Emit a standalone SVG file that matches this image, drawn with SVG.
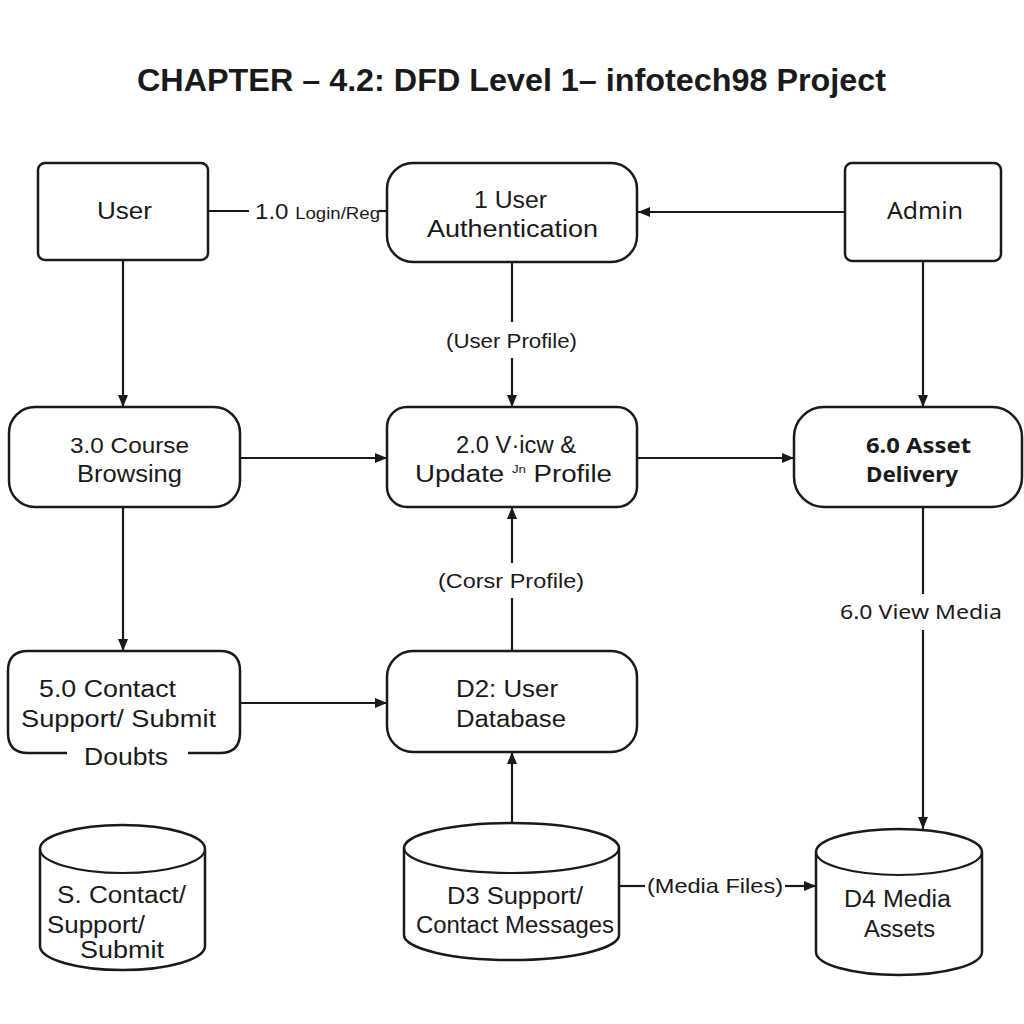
<svg xmlns="http://www.w3.org/2000/svg" width="1024" height="1024" viewBox="0 0 1024 1024">
<defs>
<marker id="arr" viewBox="0 0 12 10" refX="12" refY="5" markerWidth="12" markerHeight="10" markerUnits="userSpaceOnUse" orient="auto">
<path d="M0,0 L12,5 L0,10 z" fill="#1a1a1a"/>
</marker>
<style>
.box{fill:#fff;stroke:#1a1a1a;stroke-width:2.5}
.ln{fill:none;stroke:#1a1a1a;stroke-width:2.2}
.t{font-family:"Liberation Sans",Arial,sans-serif;fill:#1a1a1a}
.w{font-family:"Noto Sans","DejaVu Sans",sans-serif;fill:#1a1a1a}
</style>
</defs>
<rect width="1024" height="1024" fill="#fff"/>
<text class="t" x="137" y="91" font-size="31" font-weight="bold" textLength="749" lengthAdjust="spacingAndGlyphs">CHAPTER – 4.2: DFD Level 1– infotech98 Project</text>

<g id="connectors">
<path class="ln" d="M208,211 H249"/>
<path class="ln" d="M379,211 H387"/>
<path class="ln" d="M845,212 H638" marker-end="url(#arr)"/>
<path class="ln" d="M123,260 V407" marker-end="url(#arr)"/>
<path class="ln" d="M512,262 V322 M512,358 V407" marker-end="url(#arr)"/>
<path class="ln" d="M923,261 V407" marker-end="url(#arr)"/>
<path class="ln" d="M240,458 H387" marker-end="url(#arr)"/>
<path class="ln" d="M637,458 H794" marker-end="url(#arr)"/>
<path class="ln" d="M123,507 V651" marker-end="url(#arr)"/>
<path class="ln" d="M512,651 V598 M512,563 V507" marker-end="url(#arr)"/>
<path class="ln" d="M923,507 V594 M923,630 V829" marker-end="url(#arr)"/>
<path class="ln" d="M240,703 H387" marker-end="url(#arr)"/>
<path class="ln" d="M512,823 V752" marker-end="url(#arr)"/>
<path class="ln" d="M619,886 H645"/>
<path class="ln" d="M785,886 H816" marker-end="url(#arr)"/>
<text class="t" x="255" y="219" font-size="22" textLength="125" lengthAdjust="spacingAndGlyphs">1.0 <tspan font-size="17">Login/Reg</tspan></text>
<text class="t" x="446" y="348" font-size="21" textLength="131" lengthAdjust="spacingAndGlyphs">(User Profile)</text>
<text class="t" x="438" y="588" font-size="21" textLength="146" lengthAdjust="spacingAndGlyphs">(Corsr Profile)</text>
<text class="w" x="840" y="619" font-size="20" textLength="162" lengthAdjust="spacingAndGlyphs">6.0 View Media</text>
<text class="t" x="647" y="893" font-size="21" textLength="136" lengthAdjust="spacingAndGlyphs">(Media Files)</text>
</g>

<g id="user">
<rect class="box" x="38" y="163" width="170" height="97" rx="7"/>
<text class="t" x="97" y="219" font-size="24" textLength="55" lengthAdjust="spacingAndGlyphs">User</text>
</g>
<g id="auth">
<rect class="box" x="387" y="163" width="250" height="99" rx="26"/>
<text class="t" x="474" y="208" font-size="23" font-weight="500" textLength="73" lengthAdjust="spacingAndGlyphs">1 User</text>
<text class="t" x="427" y="237" font-size="23" font-weight="500" textLength="171" lengthAdjust="spacingAndGlyphs">Authentication</text>
</g>
<g id="admin">
<rect class="box" x="845" y="163" width="156" height="98" rx="7"/>
<text class="w" x="887" y="219" font-size="23" textLength="76" lengthAdjust="spacingAndGlyphs">Admin</text>
</g>
<g id="course">
<rect class="box" x="9" y="407" width="231" height="100" rx="26"/>
<text class="t" x="70" y="453" font-size="22" textLength="119" lengthAdjust="spacingAndGlyphs">3.0 Course</text>
<text class="t" x="77" y="482" font-size="23" font-weight="500" textLength="105" lengthAdjust="spacingAndGlyphs">Browsing</text>
</g>
<g id="view">
<rect class="box" x="387" y="407" width="250" height="100" rx="20"/>
<text class="t" x="456" y="453" font-size="23" textLength="120" lengthAdjust="spacingAndGlyphs">2.0 V·icw &amp;</text>
<text class="t" x="415" y="482" font-size="23" textLength="197" lengthAdjust="spacingAndGlyphs">Update <tspan font-size="11" dy="-9">Jn</tspan><tspan dy="9">  Profile</tspan></text>
</g>
<g id="asset">
<rect class="box" x="794" y="407" width="228" height="100" rx="30"/>
<text class="w" x="866" y="453" font-size="22" font-weight="bold" textLength="105" lengthAdjust="spacingAndGlyphs">6.0 Asset</text>
<text class="w" x="866" y="482" font-size="22" font-weight="bold" textLength="92" lengthAdjust="spacingAndGlyphs">Delivery</text>
</g>
<g id="contact">
<path class="box" d="M67,753 H28 Q8,753 8,733 V671 Q8,651 28,651 H220 Q240,651 240,671 V733 Q240,753 220,753 H188"/>
<text class="t" x="39" y="697" font-size="23" textLength="137" lengthAdjust="spacingAndGlyphs">5.0 Contact</text>
<text class="t" x="21" y="727" font-size="23" textLength="195" lengthAdjust="spacingAndGlyphs">Support/ Submit</text>
<text class="t" x="84" y="765" font-size="23" textLength="84" lengthAdjust="spacingAndGlyphs">Doubts</text>
</g>
<g id="d2">
<rect class="box" x="387" y="651" width="250" height="101" rx="26"/>
<text class="t" x="456" y="697" font-size="23" textLength="102" lengthAdjust="spacingAndGlyphs">D2: User</text>
<text class="t" x="456" y="727" font-size="23" textLength="110" lengthAdjust="spacingAndGlyphs">Database</text>
</g>
<g id="s-contact">
<path class="box" d="M40,849 A82.5,24 0 0 1 205,849 V946 A82.5,24 0 0 1 40,946 Z"/>
<path class="ln" stroke-width="2.5" d="M40,849 A82.5,24 0 0 0 205,849"/>
<text class="t" x="57" y="903" font-size="23" textLength="129" lengthAdjust="spacingAndGlyphs">S. Contact/</text>
<text class="t" x="47" y="933" font-size="23" textLength="98" lengthAdjust="spacingAndGlyphs">Support/</text>
<text class="t" x="80" y="958" font-size="23" textLength="84" lengthAdjust="spacingAndGlyphs">Submit</text>
</g>
<g id="d3">
<path class="box" d="M404,848 A107.5,25 0 0 1 619,848 V935 A107.5,25 0 0 1 404,935 Z"/>
<path class="ln" stroke-width="2.5" d="M404,848 A107.5,25 0 0 0 619,848"/>
<text class="t" x="447" y="904" font-size="23" textLength="136" lengthAdjust="spacingAndGlyphs">D3 Support/</text>
<text class="t" x="416" y="933" font-size="23" textLength="198" lengthAdjust="spacingAndGlyphs">Contact Messages</text>
</g>
<g id="d4">
<path class="box" d="M816,852 A83,23 0 0 1 982,852 V952 A83,23 0 0 1 816,952 Z"/>
<path class="ln" stroke-width="2.5" d="M816,852 A83,23 0 0 0 982,852"/>
<text class="t" x="844" y="907" font-size="23" textLength="107" lengthAdjust="spacingAndGlyphs">D4 Media</text>
<text class="t" x="864" y="937" font-size="23" textLength="71" lengthAdjust="spacingAndGlyphs">Assets</text>
</g>
</svg>
